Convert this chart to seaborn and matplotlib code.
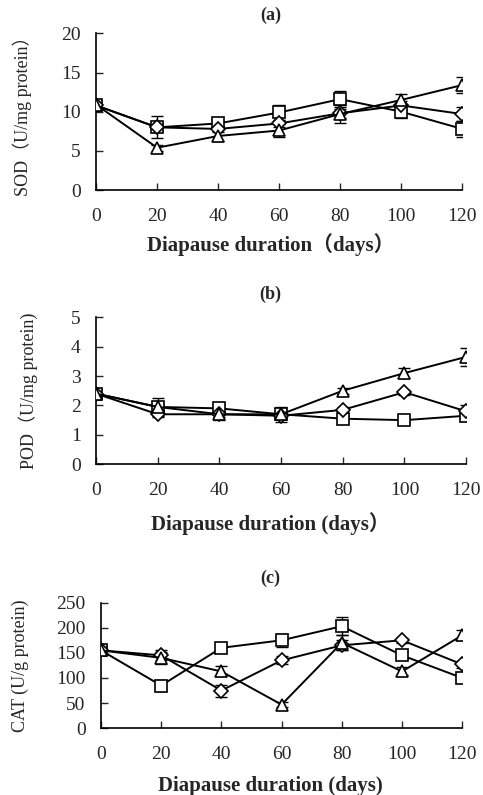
import numpy as np
import pandas as pd
import matplotlib
matplotlib.use("Agg")
import matplotlib.pyplot as plt
import seaborn as sns

# Diapause duration (days)
days = [0, 20, 40, 60, 80, 100, 120]

# (a) SOD (U/mg protein)
sod_square = [10.8, 8.0, 8.5, 9.9, 11.6, 10.0, 7.8]
sod_square_err = [0.7, 1.4, 0.3, 1.0, 1.0, 0.8, 1.0]
sod_diamond = [10.8, 8.0, 7.8, 8.5, 9.8, 10.8, 9.7]
sod_diamond_err = [0.5, 0.5, 0.4, 0.5, 0.6, 0.6, 0.9]
sod_triangle = [10.9, 5.4, 6.9, 7.6, 9.7, 11.5, 13.4]
sod_triangle_err = [0.6, 0.4, 0.7, 0.8, 1.2, 0.8, 1.0]

# (b) POD (U/mg protein)
pod_square = [2.4, 1.95, 1.9, 1.7, 1.55, 1.5, 1.65]
pod_square_err = [0.15, 0.1, 0.18, 0.25, 0.1, 0.05, 0.08]
pod_diamond = [2.4, 1.7, 1.7, 1.65, 1.85, 2.45, 1.8]
pod_diamond_err = [0.15, 0.1, 0.2, 0.1, 0.1, 0.08, 0.2]
pod_triangle = [2.4, 1.95, 1.7, 1.7, 2.5, 3.1, 3.65]
pod_triangle_err = [0.15, 0.3, 0.1, 0.1, 0.1, 0.18, 0.3]

# (c) CAT (U/g protein)
cat_square = [155, 85, 160, 175, 203, 145, 100]
cat_square_err = [8, 10, 5, 13, 18, 8, 5]
cat_diamond = [155, 145, 75, 135, 165, 175, 127]
cat_diamond_err = [8, 10, 12, 8, 10, 5, 7]
cat_triangle = [155, 140, 113, 47, 170, 113, 185]
cat_triangle_err = [8, 12, 10, 5, 15, 8, 10]

sns.set_theme(style="ticks")
plt.rcParams["font.family"] = ["Liberation Serif", "Noto Sans CJK SC", "DejaVu Sans"]

fig = plt.figure(figsize=(4.83, 7.95), dpi=100)

panels = [
    # title, ylabel, xlabel, rect, ylim, yticks, data, ylabel x(px), title y, xlabel y
    ("(a)", "SOD\uff08U/mg protein\uff09", "Diapause duration\uff08days\uff09",
     [0.199, 0.761, 0.758, 0.197], (0, 20), [0, 5, 10, 15, 20],
     [(sod_square, sod_square_err, "s"), (sod_diamond, sod_diamond_err, "D"),
      (sod_triangle, sod_triangle_err, "^")],
     22, 0.981, 0.692),
    ("(b)", "POD\uff08U/mg protein)", "Diapause duration (days\uff09",
     [0.199, 0.416, 0.766, 0.185], (0, 5), [0, 1, 2, 3, 4, 5],
     [(pod_square, pod_square_err, "s"), (pod_diamond, pod_diamond_err, "D"),
      (pod_triangle, pod_triangle_err, "^")],
     28, 0.630, 0.342),
    ("(c)", "CAT (U/g protein)", "Diapause duration (days)",
     [0.209, 0.084, 0.748, 0.158], (0, 250), [0, 50, 100, 150, 200, 250],
     [(cat_square, cat_square_err, "s"), (cat_diamond, cat_diamond_err, "D"),
      (cat_triangle, cat_triangle_err, "^")],
     20, 0.273, 0.011),
]

for title, ylab, xlab, rect, ylim, yticks, series, ylab_x, title_y, xlab_y in panels:
    ax = fig.add_axes(rect)
    for vals, errs, mk in series:
        ms = 7.5 if mk == "D" else 8.5
        sns.lineplot(x=days, y=vals, ax=ax, color="black", linewidth=1.4,
                     marker=mk, markersize=ms, markerfacecolor="white",
                     markeredgecolor="black", markeredgewidth=1.2, zorder=3)
        ax.errorbar(days, vals, yerr=errs, fmt="none", ecolor="black",
                    elinewidth=1.0, capsize=4, capthick=1.0, zorder=2)
    ax.set_xlim(0, 120)
    ax.set_ylim(*ylim)
    ax.set_xticks(days)
    ax.set_yticks(yticks)
    ax.tick_params(axis="x", direction="in", length=5, width=1, labelsize=14, pad=13)
    ax.tick_params(axis="y", direction="in", length=5, width=1, labelsize=14, pad=11)
    for s in ["top", "right"]:
        ax.spines[s].set_visible(False)
    for s in ["left", "bottom"]:
        ax.spines[s].set_linewidth(1.2)
        ax.spines[s].set_color("black")
        ax.spines[s].set_clip_on(False)
    ax.set_ylabel(ylab, fontsize=13, va="center")
    ax.yaxis.set_label_coords((ylab_x - rect[0] * 483) / (rect[2] * 483), 0.5)
    ax.set_xlabel("")
    fig.text(0.56, xlab_y, xlab, ha="center", va="center", fontsize=15,
             fontweight="bold")
    fig.text(0.56, title_y, title, ha="center", va="center", fontsize=13,
             fontweight="bold")

fig.savefig("out.png", dpi=100)
